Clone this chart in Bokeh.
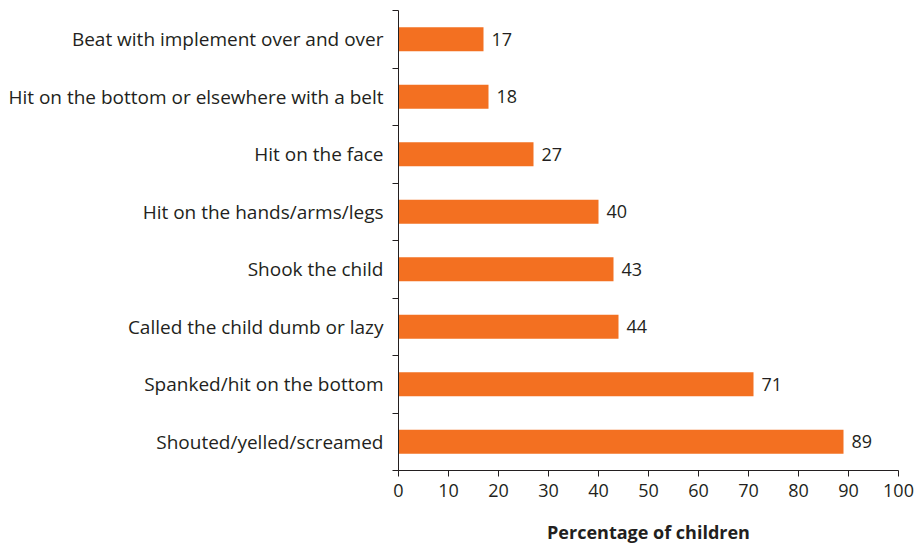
from bokeh.plotting import figure
from bokeh.models import ColumnDataSource, FixedTicker, Range1d
from bokeh.core.properties import value
from bokeh.embed import file_html
from bokeh.resources import INLINE

categories = [
    "Shouted/yelled/screamed",
    "Spanked/hit on the bottom",
    "Called the child dumb or lazy",
    "Shook the child",
    "Hit on the hands/arms/legs",
    "Hit on the face",
    "Hit on the bottom or elsewhere with a belt",
    "Beat with implement over and over",
]
values = [89, 71, 44, 43, 40, 27, 18, 17]
x_ticks = [0, 10, 20, 30, 40, 50, 60, 70, 80, 90, 100]

FONT = "Open Sans"
TXT = "#231f20"
BAR = "#f37021"

pos = [i + 0.5 for i in range(len(categories))]
src = ColumnDataSource(dict(y=pos, v=values, lab=[str(v) for v in values],
                            lx=[v + 1.6 for v in values]))

p = figure(width=922, height=547, output_backend="svg", toolbar_location=None,
           x_range=Range1d(0, 100), y_range=Range1d(0, len(categories)),
           min_border_left=398, min_border_right=24, min_border_top=10,
           min_border_bottom=77)
p.hbar(y="y", right="v", left=0, height=0.42, source=src, color=BAR, line_color=None)
p.text(x="lx", y="y", text="lab", source=src, text_font=value(FONT),
       text_font_size="18px", text_color=TXT, text_baseline="middle", text_align="left")

p.outline_line_color = None
p.grid.grid_line_color = None
p.background_fill_color = "white"
p.border_fill_color = "white"

yax = p.yaxis[0]
yax.ticker = FixedTicker(ticks=pos, minor_ticks=list(range(len(categories) + 1)))
yax.major_label_overrides = {p_: c for p_, c in zip(pos, categories)}
yax.major_tick_line_color = None
yax.major_tick_out = 0
yax.major_tick_in = 0
yax.minor_tick_out = 6
yax.minor_tick_in = 0
yax.minor_tick_line_color = TXT
yax.axis_line_color = TXT
yax.major_label_text_font = FONT
yax.major_label_text_font_size = "19px"
yax.major_label_text_color = TXT
yax.major_label_standoff = 9

xax = p.xaxis[0]
xax.ticker = FixedTicker(ticks=x_ticks)
xax.major_tick_out = 6
xax.major_tick_in = 0
xax.minor_tick_line_color = None
xax.axis_line_color = TXT
xax.major_tick_line_color = TXT
xax.major_label_text_font = FONT
xax.major_label_text_font_size = "18px"
xax.major_label_text_color = TXT
xax.major_label_standoff = 7
xax.axis_label = "Percentage of children"
xax.axis_label_text_font = FONT
xax.axis_label_text_font_style = "bold"
xax.axis_label_text_font_size = "18px"
xax.axis_label_text_color = TXT
xax.axis_label_standoff = 20

open("out.html", "w").write(file_html(p, INLINE))
